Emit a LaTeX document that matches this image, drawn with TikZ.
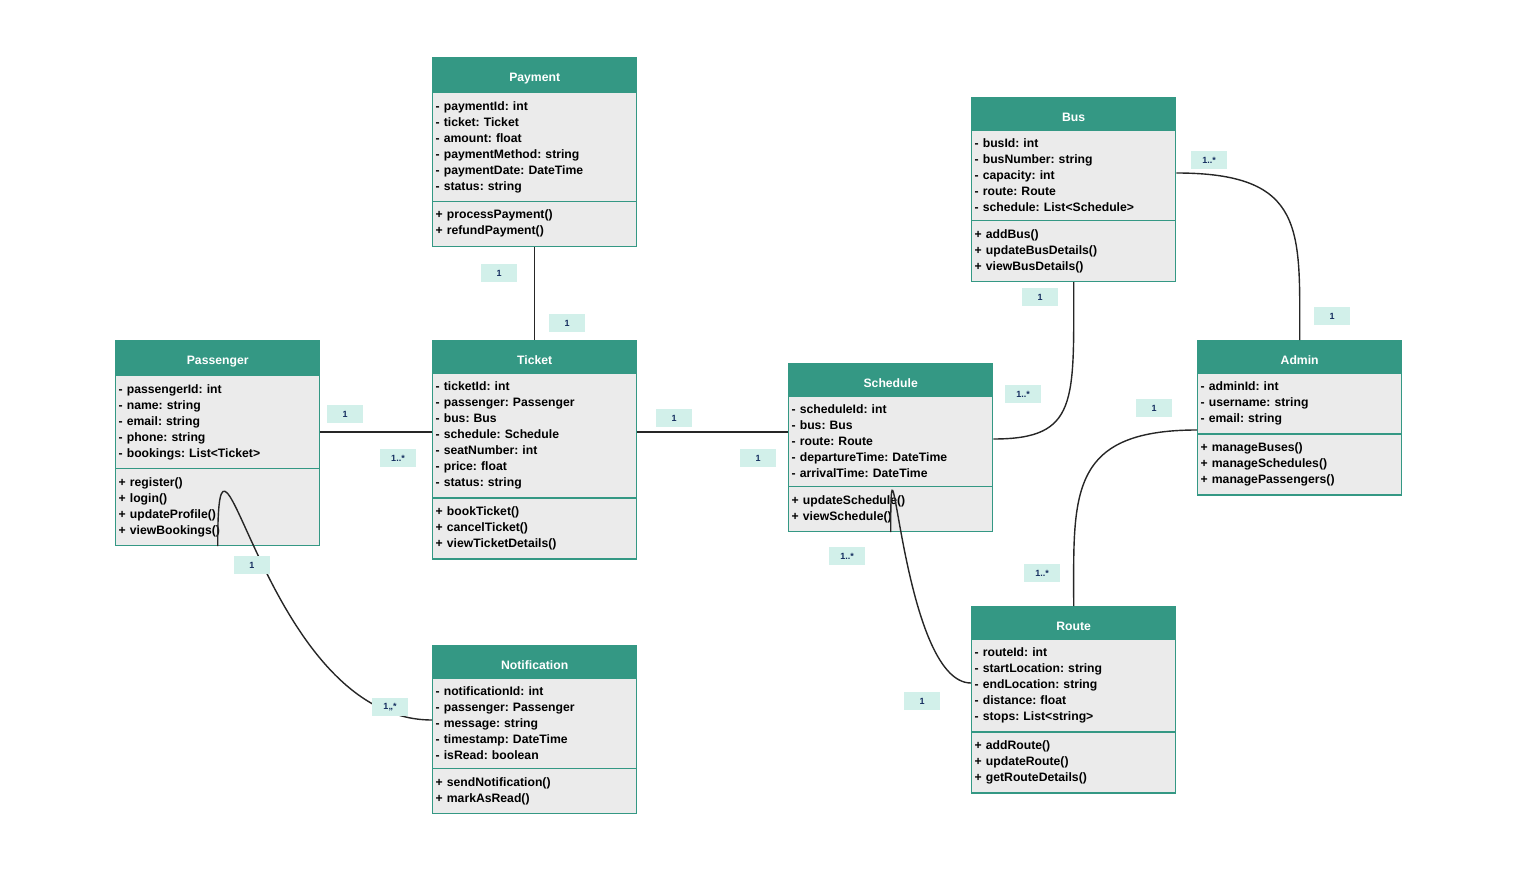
\documentclass[tikz,border=0pt]{standalone}
\usepackage{fontspec}
\setmainfont{Liberation Sans}
\usetikzlibrary{shapes.multipart}
\definecolor{hdr}{RGB}{52,152,132}
\definecolor{boxbg}{RGB}{235,235,235}
\definecolor{lblbg}{RGB}{210,240,234}
\definecolor{lbltxt}{RGB}{20,45,95}
\newcommand{\hd}[1]{\centering\textcolor{white}{\rule{0pt}{15pt}#1}\par}
\frenchspacing

\begin{document}
\begin{tikzpicture}[x=1pt,y=-1pt,thick,
	class/.style={rectangle split,rectangle split parts=3,draw=hdr,line width=1.4pt,
		rectangle split part fill={hdr,boxbg,boxbg},text width=198pt,inner xsep=3pt,
		inner ysep=8pt,align=left,anchor=north west,
		font=\fontsize{12.2}{16}\selectfont\bfseries\frenchspacing},
	mult/.style={fill=lblbg,text=lbltxt,font=\fontsize{9}{10}\selectfont\bfseries,
		minimum width=36pt,minimum height=18pt,inner sep=1pt},
	link/.style={draw=black!85,line width=1.4pt}]
	
	\useasboundingbox (0,0) rectangle (1516,872);
	
	\node[class] (Payment) at (432,57) {\hd{Payment}
		\nodepart{two}- paymentId: int\\- ticket: Ticket\\- amount: float\\- paymentMethod: string\\- paymentDate: DateTime\\- status: string
		\nodepart{three}+ processPayment()\\+ refundPayment()};
	\node[class] (Ticket) at (432,340) {\hd{Ticket}
		\nodepart{two}- ticketId: int\\- passenger: Passenger\\- bus: Bus\\- schedule: Schedule\\- seatNumber: int\\- price: float\\- status: string
		\nodepart{three}+ bookTicket()\\+ cancelTicket()\\+ viewTicketDetails()};
	\node[class] (Passenger) at (115,340) {\hd{Passenger}
		\nodepart{two}- passengerId: int\\- name: string\\- email: string\\- phone: string\\- bookings: List<Ticket>
		\nodepart{three}+ register()\\+ login()\\+ updateProfile()\\+ viewBookings()};
	\node[class] (Notification) at (432,645) {\hd{Notification}
		\nodepart{two}- notificationId: int\\- passenger: Passenger\\- message: string\\- timestamp: DateTime\\- isRead: boolean
		\nodepart{three}+ sendNotification()\\+ markAsRead()};
	\node[class] (Schedule) at (788,363) {\hd{Schedule}
		\nodepart{two}- scheduleId: int\\- bus: Bus\\- route: Route\\- departureTime: DateTime\\- arrivalTime: DateTime
		\nodepart{three}+ updateSchedule()\\+ viewSchedule()};
	\node[class] (Bus) at (971,97) {\hd{Bus}
		\nodepart{two}- busId: int\\- busNumber: string\\- capacity: int\\- route: Route\\- schedule: List<Schedule>
		\nodepart{three}+ addBus()\\+ updateBusDetails()\\+ viewBusDetails()};
	\node[class] (Admin) at (1197,340) {\hd{Admin}
		\nodepart{two}- adminId: int\\- username: string\\- email: string
		\nodepart{three}+ manageBuses()\\+ manageSchedules()\\+ managePassengers()};
	\node[class] (Route) at (971,606) {\hd{Route}
		\nodepart{two}- routeId: int\\- startLocation: string\\- endLocation: string\\- distance: float\\- stops: List<string>
		\nodepart{three}+ addRoute()\\+ updateRoute()\\+ getRouteDetails()};
	
	% connectors
	\path[link] (Payment.south) -- (Ticket.north);
	\path[link] (Passenger.east |- 0,432) coordinate (pe) -- (Ticket.west |- pe);
	\path[link] (Ticket.east |- 0,432) coordinate (te) -- (Schedule.west |- te);
	\path[link] (Passenger.south) .. controls +(0,-190) and +(-170,0) .. (Notification.west |- 0,720);
	\path[link] (Schedule.east |- 0,439) .. controls +(85,0) and +(0,120) .. (Bus.south);
	\path[link] (Bus.east |- 0,173) .. controls +(130,0) and +(0,-110) .. (Admin.north);
	\path[link] (Admin.west |- 0,430) .. controls +(-130,0) and +(0,-110) .. (Route.north);
	\path[link] (Schedule.south) .. controls +(0,-150) and +(-70,0) .. (Route.west |- 0,683);
	
	% multiplicities
	\node[mult] (m1) at (499,273) {1};
	\node[mult] (m2) at (567,323) {1};
	\node[mult] (m3) at (345,414) {1};
	\node[mult] (m4) at (398,458) {1..*};
	\node[mult] (m5) at (674,418) {1};
	\node[mult] (m6) at (758,458) {1};
	\node[mult] (m7) at (252,565) {1};
	\node[mult] (m8) at (390,707) {1,,*};
	\node[mult] (m9) at (1040,297) {1};
	\node[mult] (m10) at (1023,394) {1..*};
	\node[mult] (m11) at (1209,160) {1..*};
	\node[mult] (m12) at (1332,316) {1};
	\node[mult] (m13) at (1154,408) {1};
	\node[mult] (m14) at (1042,573) {1..*};
	\node[mult] (m15) at (847,556) {1..*};
	\node[mult] (m16) at (922,701) {1};
\end{tikzpicture}
\end{document}
